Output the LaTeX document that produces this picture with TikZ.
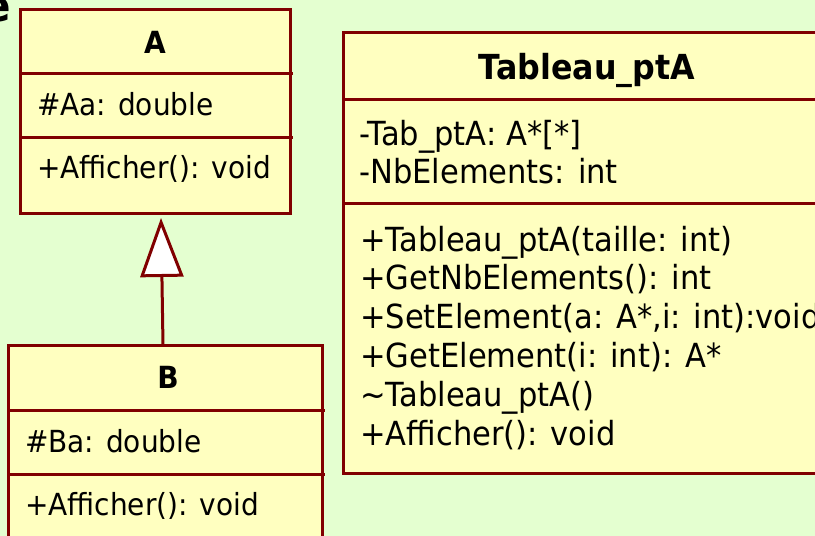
\documentclass[tikz,border=0pt]{standalone}
\usepackage{fontspec}
\setmainfont{DejaVu Sans}[FakeStretch=0.92]
\usetikzlibrary{arrows.meta,calc}
\definecolor{bgreen}{HTML}{E4FFD0}
\definecolor{cfill}{HTML}{FFFFC0}
\definecolor{cline}{HTML}{800000}
\tikzset{
  umlbox/.style={draw=cline, fill=cfill, line width=3pt, inner sep=0pt, outer sep=0pt, rectangle},
  sepline/.style={draw=cline, line width=3pt},
  clsname/.style={font=\bfseries\fontsize{30.5}{32}\selectfont, anchor=base, inner sep=0pt},
  bigname/.style={font=\bfseries\fontsize{34.5}{36}\selectfont, anchor=base, inner sep=0pt},
  smalltxt/.style={font=\fontsize{30.4}{32}\selectfont, anchor=base west, inner sep=0pt},
  bigtxt/.style={font=\fontsize{33.2}{35}\selectfont, anchor=base west, inner sep=0pt},
  inherit/.style={draw=cline, line width=3pt, -{Triangle[open, length=59pt, width=43pt, fill=white, line width=3pt]}}
}
\begin{document}
\begin{tikzpicture}[x=1pt,y=-1pt]
\useasboundingbox (0,0) rectangle (815,536);
\clip (0,0) rectangle (815,536);
\fill[bgreen] (0,0) rectangle (815,536);

% heading fragment at the top-left corner
\node[font=\bfseries\fontsize{44}{44}\selectfont, anchor=base east, inner sep=0pt] (head) at (11,21) {e};

% class A
\node[umlbox, minimum width=270, minimum height=204] (A) at (155,111) {};
\draw[sepline] (A.west |- 0,73) -- ++(273,0);
\draw[sepline] (A.west |- 0,137) -- ++(273,0);
\node[clsname] (An) at (155,53) {A};
\node[smalltxt] (Aa) at (37,115) {\#Aa: double};
\node[smalltxt] (Am) at (37,178) {+Afficher(): void};

% class B
\node[umlbox, minimum width=314, minimum height=215] (B) at (165,452.5) {};
\draw[sepline] (B.west |- 0,410) -- ++(317,0);
\draw[sepline] (B.west |- 0,474) -- ++(317,0);
\node[clsname] (Bn) at (168,388) {B};
\node[smalltxt] (Ba) at (25,452) {\#Ba: double};
\node[smalltxt] (Bm) at (25,515) {+Afficher(): void};

% class Tableau_ptA
\node[umlbox, minimum width=489, minimum height=441] (T) at (587.5,252.5) {};
\draw[sepline] (T.west |- 0,99) -- (T.east |- 0,99);
\draw[sepline] (T.west |- 0,203) -- (T.east |- 0,203);
\node[bigname] (Tn) at (587,79) {Tableau\_ptA};
\node[bigtxt] (Ta1) at (359,145) {-Tab\_ptA: A*[*]};
\node[bigtxt] (Ta2) at (359,183) {-NbElements: int};
\node[bigtxt] (Tm1) at (360,251) {+Tableau\_ptA(taille: int)};
\node[bigtxt] (Tm2) at (360,289) {+GetNbElements(): int};
\node[bigtxt] (Tm3) at (360,328) {+SetElement(a: A*,i: int):void};
\node[bigtxt] (Tm4) at (360,367) {+GetElement(i: int): A*};
\node[bigtxt] (Tm5) at (360,406) {\char"007E Tableau\_ptA()};
\node[bigtxt] (Tm6) at (360,445) {+Afficher(): void};

% generalization B -> A
\coordinate (Bt) at ($(B.north)+(-2,0)$);
\coordinate (Ab) at ($(A.south)+(6,5)$);
\draw[inherit] (Bt) -- (Ab);
\end{tikzpicture}
\end{document}
